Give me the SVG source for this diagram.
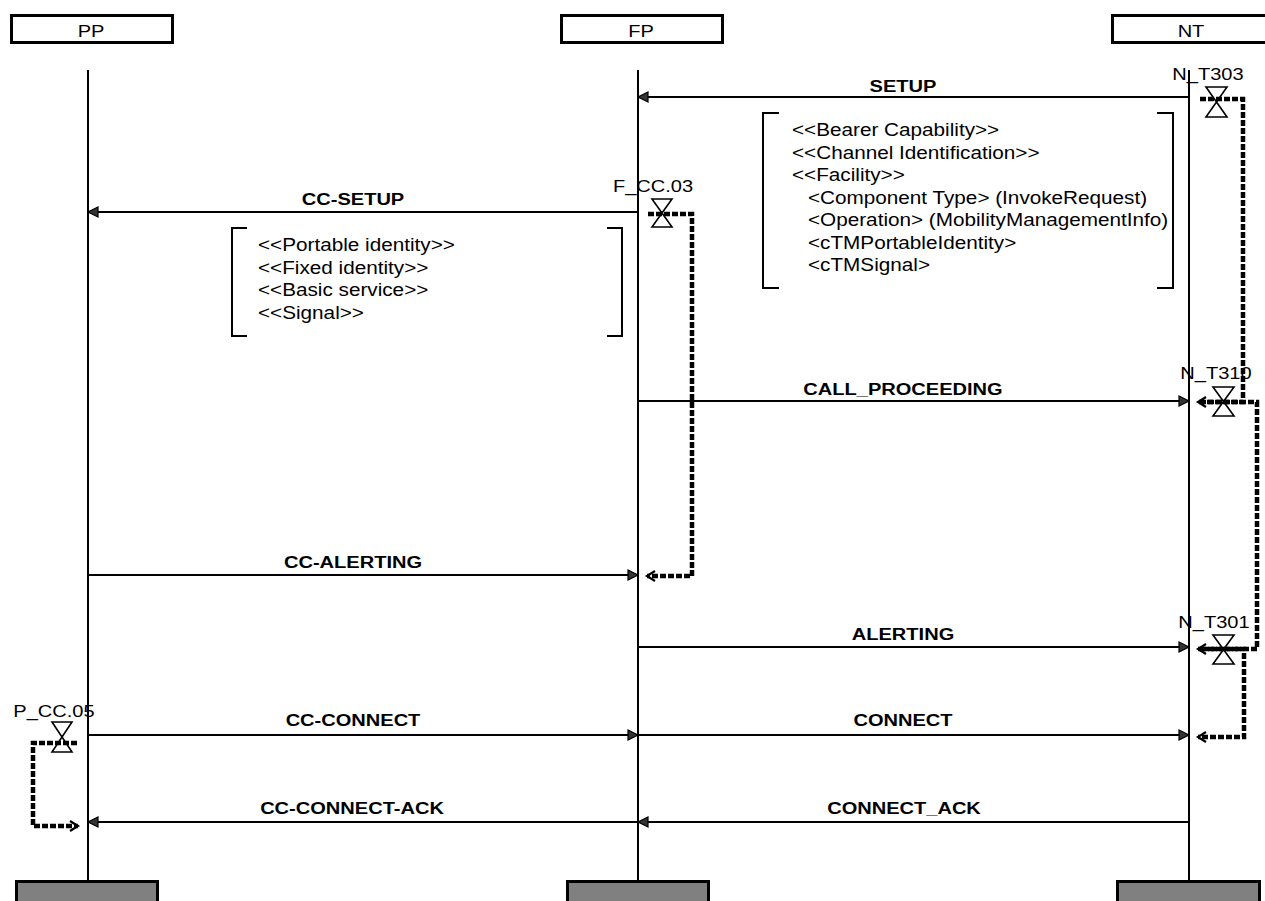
<svg xmlns="http://www.w3.org/2000/svg" width="1265" height="901" viewBox="0 0 1265 901">
<style>
  text { font-family: "Liberation Sans", Arial, sans-serif; fill: #000; }
  .hdr { font-size: 17px; text-anchor: middle; }
  .lbl { font-size: 17px; font-weight: bold; text-anchor: middle; }
  .tmr { font-size: 17px; text-anchor: middle; }
  .par { font-size: 18.5px; }
  .box { fill: #fff; stroke: #000; stroke-width: 3; }
  .foot { fill: #808080; stroke: #000; stroke-width: 3; }
  .life { stroke: #000; stroke-width: 2; fill: none; }
  .msg { stroke: #000; stroke-width: 2; fill: none; marker-end: url(#arr); }
  .brk { stroke: #000; stroke-width: 2; fill: none; }
  .tline { stroke: #000; stroke-width: 4.5; stroke-dasharray: 6 2; fill: none; marker-end: url(#chev); }
  .hg { stroke: #000; stroke-width: 1.6; fill: none; }
</style>
<defs>
  <marker id="arr" markerUnits="userSpaceOnUse" markerWidth="12" markerHeight="12" refX="10" refY="5" orient="auto" overflow="visible">
    <path d="M0,0 L10,5 L0,10 Z" fill="#333" stroke="#000" stroke-width="1.2"/>
  </marker>
  <marker id="chev" markerUnits="userSpaceOnUse" markerWidth="12" markerHeight="12" refX="8" refY="5" orient="auto" overflow="visible">
    <path d="M0,0 L8,5 L0,10" fill="none" stroke="#000" stroke-width="2.2"/>
  </marker>
</defs>
<rect width="1265" height="901" fill="#fff"/>

<g id="lifeline-PP">
  <rect class="box" x="11.5" y="15.5" width="161" height="27"/>
  <text class="hdr" transform="translate(91,37) scale(1.18,1)">PP</text>
  <line class="life" x1="88" y1="70" x2="88" y2="880"/>
  <rect class="foot" x="16.5" y="881.5" width="141" height="30"/>
</g>
<g id="lifeline-FP">
  <rect class="box" x="561.5" y="15.5" width="161" height="27"/>
  <text class="hdr" transform="translate(641,37) scale(1.18,1)">FP</text>
  <line class="life" x1="638" y1="70" x2="638" y2="880"/>
  <rect class="foot" x="567.5" y="881.5" width="141" height="30"/>
</g>
<g id="lifeline-NT">
  <rect class="box" x="1112.5" y="15.5" width="175" height="27"/>
  <text class="hdr" transform="translate(1191,37) scale(1.18,1)">NT</text>
  <line class="life" x1="1189" y1="70" x2="1189" y2="880"/>
  <rect class="foot" x="1117.5" y="881.5" width="142" height="30"/>
</g>

<g id="connectors">
  <line class="msg" x1="1189" y1="97" x2="638" y2="97"/>
  <line class="msg" x1="638" y1="212" x2="88" y2="212"/>
  <line class="msg" x1="638" y1="401" x2="1189" y2="401"/>
  <line class="msg" x1="88" y1="575" x2="638" y2="575"/>
  <line class="msg" x1="638" y1="647" x2="1189" y2="647"/>
  <line class="msg" x1="88" y1="735" x2="638" y2="735"/>
  <line class="msg" x1="638" y1="735" x2="1189" y2="735"/>
  <line class="msg" x1="638" y1="822" x2="88" y2="822"/>
  <line class="msg" x1="1189" y1="822" x2="638" y2="822"/>
</g>

<g id="labels">
  <text class="lbl" transform="translate(903,92) scale(1.18,1)">SETUP</text>
  <text class="lbl" transform="translate(353,205) scale(1.18,1)">CC-SETUP</text>
  <text class="lbl" transform="translate(903,395) scale(1.18,1)">CALL_PROCEEDING</text>
  <text class="lbl" transform="translate(353,568) scale(1.18,1)">CC-ALERTING</text>
  <text class="lbl" transform="translate(903,640) scale(1.18,1)">ALERTING</text>
  <text class="lbl" transform="translate(353,726) scale(1.18,1)">CC-CONNECT</text>
  <text class="lbl" transform="translate(903,726) scale(1.18,1)">CONNECT</text>
  <text class="lbl" transform="translate(352,814) scale(1.18,1)">CC-CONNECT-ACK</text>
  <text class="lbl" transform="translate(904,814) scale(1.18,1)">CONNECT_ACK</text>
</g>

<g id="note-setup-params">
  <path class="brk" d="M779,113 H763 V288 H779"/>
  <path class="brk" d="M1157,113 H1173 V288 H1157"/>
  <text class="par" transform="translate(792,136) scale(1.12,1)">&lt;&lt;Bearer Capability&gt;&gt;</text>
  <text class="par" transform="translate(792,158.5) scale(1.12,1)">&lt;&lt;Channel Identification&gt;&gt;</text>
  <text class="par" transform="translate(792,181) scale(1.12,1)">&lt;&lt;Facility&gt;&gt;</text>
  <text class="par" transform="translate(808,203.5) scale(1.12,1)">&lt;Component Type&gt; (InvokeRequest)</text>
  <text class="par" transform="translate(808,226) scale(1.12,1)">&lt;Operation&gt; (MobilityManagementInfo)</text>
  <text class="par" transform="translate(808,248.5) scale(1.12,1)">&lt;cTMPortableIdentity&gt;</text>
  <text class="par" transform="translate(808,271) scale(1.12,1)">&lt;cTMSignal&gt;</text>
</g>

<g id="note-cc-setup-params">
  <path class="brk" d="M247,228 H232 V336 H247"/>
  <path class="brk" d="M607,228 H622 V336 H607"/>
  <text class="par" transform="translate(258,251) scale(1.12,1)">&lt;&lt;Portable identity&gt;&gt;</text>
  <text class="par" transform="translate(258,273.5) scale(1.12,1)">&lt;&lt;Fixed identity&gt;&gt;</text>
  <text class="par" transform="translate(258,296) scale(1.12,1)">&lt;&lt;Basic service&gt;&gt;</text>
  <text class="par" transform="translate(258,318.5) scale(1.12,1)">&lt;&lt;Signal&gt;&gt;</text>
</g>

<g id="timer-N_T303">
  <path class="tline" d="M1200,99 H1243 V402 H1198"/>
  <polygon class="hg" points="1206,87 1227,87 1206,117 1227,117"/>
  <text class="tmr" transform="translate(1208,80) scale(1.18,1)">N_T303</text>
</g>
<g id="timer-F_CC.03">
  <path class="tline" d="M648,214 H692 V576 H647"/>
  <polygon class="hg" points="652,199 672,199 652,227 672,227"/>
  <text class="tmr" transform="translate(653,192) scale(1.18,1)">F_CC.03</text>
</g>
<g id="timer-N_T310">
  <path class="tline" d="M1200,402 H1257 V649 H1198"/>
  <polygon class="hg" points="1213,387 1234,387 1213,416 1234,416"/>
  <text class="tmr" transform="translate(1216,379) scale(1.18,1)">N_T310</text>
</g>
<g id="timer-N_T301">
  <path class="tline" d="M1200,649 H1244 V737 H1198"/>
  <polygon class="hg" points="1213,635 1234,635 1213,664 1234,664"/>
  <text class="tmr" transform="translate(1214,628) scale(1.18,1)">N_T301</text>
</g>
<g id="timer-P_CC.05">
  <path class="tline" d="M77,743 H33 V826 H78"/>
  <polygon class="hg" points="52,722 72,722 52,752 72,752"/>
  <text class="tmr" transform="translate(54,717) scale(1.18,1)">P_CC.05</text>
</g>
</svg>
